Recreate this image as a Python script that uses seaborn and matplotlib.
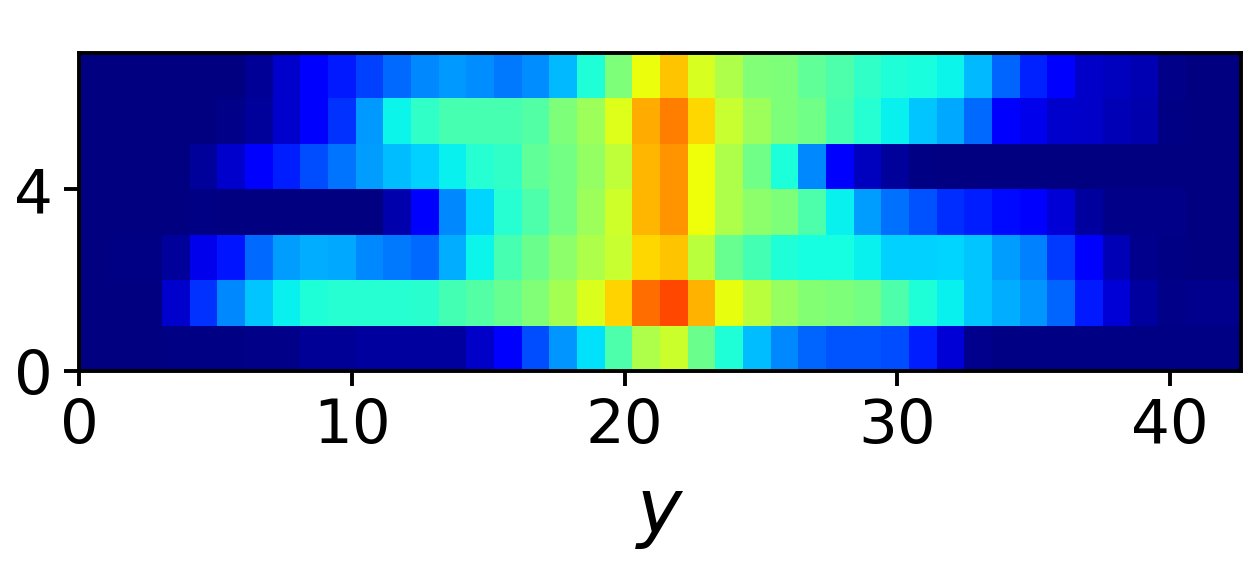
import numpy as np
import matplotlib
matplotlib.use("Agg")
import matplotlib.pyplot as plt
import seaborn as sns

# rows bottom to top, 42 bins each, values
row0 = [.003, .003, .003, .006, .006, .006, .01, .01, .02, .022, .028, .028, .028, .03, .065, .11, .2, .27, .345, .445, .56,
        .595, .48, .39, .31, .26, .225, .21, .21, .2, .155, .075, .015, .004, .004, .004, .004, .004, .004, .006, .006, .006]
row1 = [.003, .003, .003, .07, .175, .26, .32, .36, .39, .395, .395, .395, .40, .43, .45, .475, .505, .55, .615, .685, .795,
        .835, .72, .63, .575, .535, .51, .5, .49, .445, .39, .36, .32, .295, .27, .225, .15, .075, .03, .01, .012, .012]
row2 = [0, .004, .004, .025, .095, .145, .23, .28, .295, .29, .26, .245, .23, .295, .365, .435, .48, .52, .56, .59, .68,
        .70, .575, .475, .43, .39, .375, .375, .36, .33, .33, .335, .32, .28, .25, .18, .115, .05, .015, .005, .002, .002]
row3 = [0, 0, 0, 0, .005, .003, .003, .003, .003, .003, .003, .04, .11, .26, .335, .395, .445, .49, .54, .6, .715,
        .75, .64, .56, .52, .5, .445, .36, .28, .235, .205, .17, .155, .135, .11, .075, .03, .01, .008, .008, .002, .002]
row4 = [0, 0, 0, 0, .025, .07, .11, .155, .2, .24, .28, .31, .33, .36, .395, .41, .465, .49, .53, .58, .715,
        .75, .64, .56, .485, .385, .26, .11, .055, .025, .005, .002, .002, .002, .002, .002, .002, .002, .002, .002, .002, .002]
row5 = [0, 0, 0, 0, 0, .01, .025, .07, .11, .175, .275, .365, .41, .435, .435, .435, .45, .5, .54, .62, .73,
        .775, .68, .59, .54, .5, .485, .435, .395, .36, .32, .29, .23, .115, .095, .07, .065, .05, .04, .005, .003, .003]
row6 = [0, 0, 0, 0, 0, .003, .02, .07, .11, .15, .19, .23, .26, .275, .2625, .245, .2625, .305, .39, .50, .635,
        .70, .61, .56, .505, .5, .468, .443, .41, .387, .38, .365, .305, .225, .157, .11, .065, .055, .045, .01, .003, .003]

x_max = 42.6
x_ticks = [0, 10, 20, 30, 40]
y_ticks = [0, 4]

data = np.array([row0, row1, row2, row3, row4, row5, row6])

fig, ax = plt.subplots(figsize=(12.5, 5.8), dpi=100)
sns.heatmap(data, ax=ax, cmap="jet", vmin=0, vmax=1, cbar=False, xticklabels=False, yticklabels=False)
ax.set_ylim(0, data.shape[0])

# bins span 0..x_max in the original units
scale = data.shape[1] / x_max
ax.set_xticks([t * scale for t in x_ticks])
ax.set_xticklabels(x_ticks, rotation=0)
ax.set_yticks(y_ticks)
ax.set_yticklabels(y_ticks, rotation=0)
ax.tick_params(labelsize=44, length=11, width=2.8, pad=8)
ax.set_xlabel("$y$", fontsize=55, labelpad=15)

for s in ax.spines.values():
    s.set_visible(True)
    s.set_linewidth(2.8)
    s.set_color("black")

fig.subplots_adjust(left=79 / 1250, right=1241 / 1250, top=1 - 53 / 580, bottom=1 - 371 / 580)
fig.savefig("out.png", dpi=100)
